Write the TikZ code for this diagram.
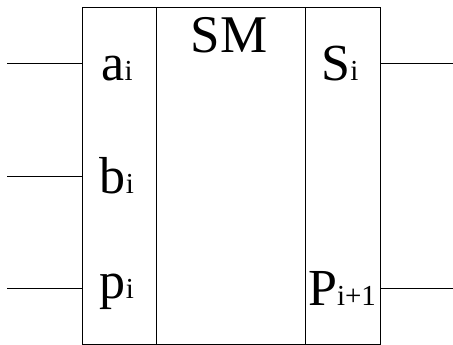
\documentclass[tikz,border=0pt]{standalone}
\usepackage{fontspec}
\setmainfont{Liberation Serif}
\newfontfamily\tms{Liberation Serif}
\newcommand{\bigsub}[2]{{\tms\fontsize{52}{52}\selectfont #1}{\tms\fontsize{29}{29}\selectfont #2}}
\begin{document}
\begin{tikzpicture}[x=1pt,y=-1pt,
  col/.style={draw=black,line width=1pt,minimum height=336pt,inner sep=0pt,outer sep=0pt,anchor=north west},
  lbl/.style={anchor=base,inner sep=0pt,font=\tms},
  wire/.style={draw=black,line width=1pt}]
\useasboundingbox (0,0) rectangle (453,345);
\node[col,minimum width=74pt] (L) at (82,8) {};
\node[col,minimum width=149pt] (M) at (156,8) {};
\node[col,minimum width=75pt] (R) at (305,8) {};
\node[lbl] (a) at (117,81) {\bigsub{a}{i}};
\node[lbl] (b) at (117,193) {\bigsub{b}{i}};
\node[lbl] (p) at (117,298) {\bigsub{p}{i}};
\node[lbl] (sm) at (229,53) {\tms\fontsize{53}{53}\selectfont SM};
\node[lbl] (s) at (340,81) {\bigsub{S}{i}};
\node[lbl] (P) at (342,305) {\bigsub{P}{i+1}};
\coordinate (ina) at (7,64);
\coordinate (inb) at (7,176);
\coordinate (inp) at (7,288);
\coordinate (outs) at (453,64);
\coordinate (outp) at (453,288);
\draw[wire] (ina) -- (ina -| L.west);
\draw[wire] (inb) -- (inb -| L.west);
\draw[wire] (inp) -- (inp -| L.west);
\draw[wire] (outs -| R.east) -- (outs);
\draw[wire] (outp -| R.east) -- (outp);
\end{tikzpicture}
\end{document}
